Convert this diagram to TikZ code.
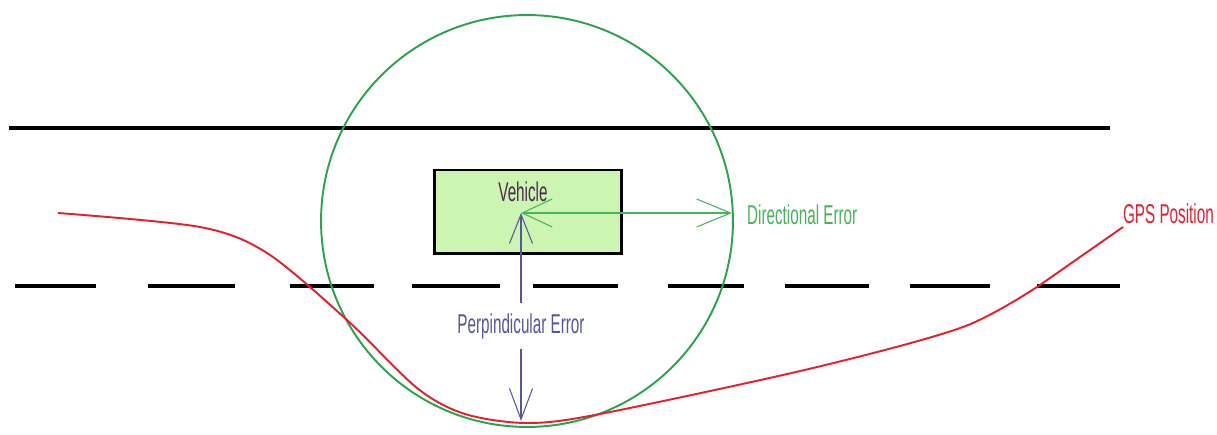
\documentclass[tikz,border=0pt]{standalone}
\usepackage{fontspec}
\setmainfont{Liberation Sans}[FakeStretch=0.56]
\usetikzlibrary{arrows.meta,positioning}
\definecolor{zonegreen}{RGB}{40,165,75}
\definecolor{errgreen}{RGB}{70,180,90}
\definecolor{gpsred}{RGB}{232,30,45}
\definecolor{perpblue}{RGB}{85,85,160}
\definecolor{vehfill}{RGB}{205,245,178}
\definecolor{vehtext}{RGB}{75,40,80}

\begin{document}
\begin{tikzpicture}[x=0.02cm, y=-0.02cm, every node/.style={font=\fontsize{15.5}{18}\selectfont, inner sep=1pt}]
  \useasboundingbox (0,0) rectangle (1217,435);
  % road
  \draw[line width=2.2pt] (9,128) -- (1110,128);
  \foreach \a/\b in {15/96, 148/235, 290/374, 412/500, 533/618, 668/744, 785/869, 910/990, 1037/1120}
    \draw[line width=2.2pt] (\a,286) -- (\b,286);
  % vehicle
  \node[draw, line width=1.7pt, fill=vehfill, minimum width=3.76cm, minimum height=1.68cm] (veh) at (528,212) {};
  \node[text=vehtext] (vehlbl) at (523,192) {Vehicle};
  \coordinate (ctr) at (521,213);
  \draw[zonegreen, line width=1.1pt] (527,221) circle[radius=4.12cm];
  % directional error
  \coordinate (dirtip) at (732,213);
  \draw[errgreen, line width=0.6pt, {Straight Barb[length=0.6cm, width=0.56cm]}-{Straight Barb[length=0.68cm, width=0.56cm]}] (ctr) -- (dirtip);
  \node[errgreen, anchor=west] (dirlbl) at (745,215) {Directional Error};
  % perpendicular error
  \node[perpblue, minimum height=0.9cm] (perp) at (521,326) {Perpindicular Error};
  \coordinate (perpfoot) at (521,421);
  \draw[perpblue, line width=0.6pt, -{Straight Barb[length=0.58cm, width=0.46cm]}] (perp) -- (ctr);
  \draw[perpblue, line width=0.6pt, -{Straight Barb[length=0.62cm, width=0.46cm]}] (perp) -- (perpfoot);
  % gps track
  \coordinate (gpsend) at (1123,227);
  \node[gpsred, anchor=west] (gps) at (1121,214) {GPS Position};
  \draw[gpsred, line width=1.1pt] plot[smooth, tension=0.5] coordinates {(58,213) (200,227) (267,253) (347,320) (417,388) (465,414) (527,423) (600,414) (813,368) (963,327) (1040,285)} -- (gpsend);
\end{tikzpicture}
\end{document}
